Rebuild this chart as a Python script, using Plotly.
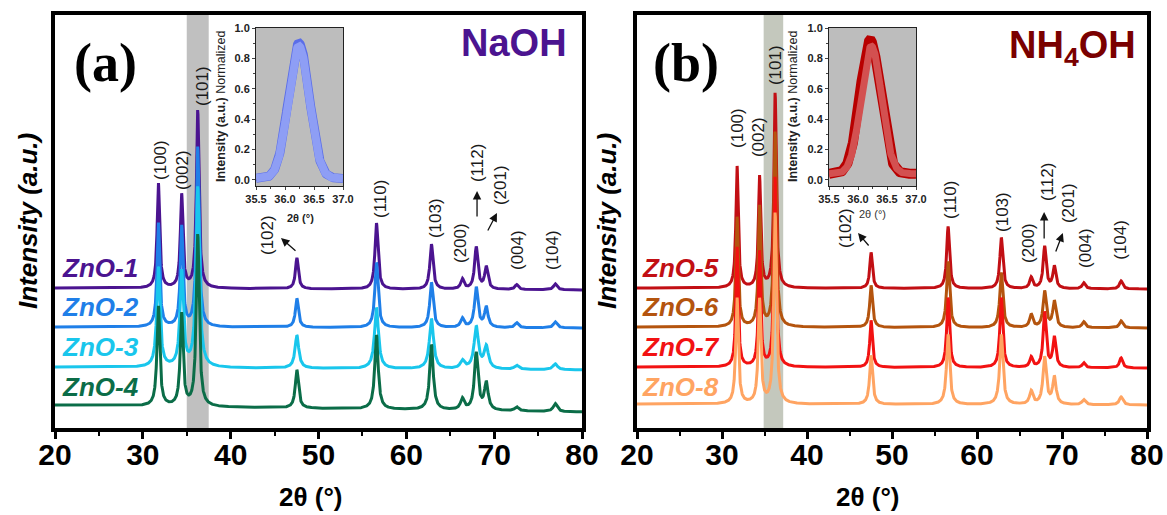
import numpy as np
import plotly.graph_objects as go

W, H = 1167, 515

# ---------------- data ----------------
hkl_labels = ["(100)", "(002)", "(101)", "(102)", "(110)", "(103)",
              "(200)", "(112)", "(201)", "(004)", "(104)"]
peak_positions = [31.77, 34.42, 36.25, 47.54, 56.60, 62.86,
                  66.38, 67.96, 69.10, 72.56, 76.95]

# peak heights above baseline for each sample (same order as hkl_labels)
zno1_heights = [105, 93, 178, 31, 66, 45, 10, 42, 22, 5, 6]
zno2_heights = [104, 100, 180, 29, 65, 45, 9, 40, 20, 5, 6]
zno3_heights = [100, 95, 180, 33, 61, 50, 8, 42, 22, 4, 6]
zno4_heights = [100, 92, 172, 38, 74, 65, 11, 57, 27, 4, 8]
zno5_heights = [122, 111, 195, 36, 62, 51, 11, 42, 22, 6, 8]
zno6_heights = [110, 120, 195, 42, 66, 55, 13, 36, 26, 6, 7]
zno7_heights = [120, 115, 190, 47, 70, 70, 10, 55, 30, 5, 10]
zno8_heights = [106, 104, 191, 49, 70, 70, 13, 47, 27, 5, 8]

# peak widths (FWHM, degrees) per sample
sample_fwhm = {"ZnO-1": 0.34, "ZnO-2": 0.36, "ZnO-3": 0.44, "ZnO-4": 0.38,
               "ZnO-5": 0.32, "ZnO-6": 0.34, "ZnO-7": 0.32, "ZnO-8": 0.36}
# stacked baseline level at 20° and at 80°
baseline_start = {"ZnO-1": 140, "ZnO-2": 101, "ZnO-3": 61, "ZnO-4": 23,
                  "ZnO-5": 140, "ZnO-6": 101, "ZnO-7": 61, "ZnO-8": 24}
baseline_end = {"ZnO-1": 138, "ZnO-2": 100, "ZnO-3": 58, "ZnO-4": 16,
                "ZnO-5": 139, "ZnO-6": 100, "ZnO-7": 60, "ZnO-8": 23}

naoh_samples = ["ZnO-1", "ZnO-2", "ZnO-3", "ZnO-4"]
nh4oh_samples = ["ZnO-5", "ZnO-6", "ZnO-7", "ZnO-8"]
sample_heights = {"ZnO-1": zno1_heights, "ZnO-2": zno2_heights,
                  "ZnO-3": zno3_heights, "ZnO-4": zno4_heights,
                  "ZnO-5": zno5_heights, "ZnO-6": zno6_heights,
                  "ZnO-7": zno7_heights, "ZnO-8": zno8_heights}

# inset: normalised (101) reflection
inset_a_samples = ["ZnO-1", "ZnO-2", "ZnO-3"]
inset_a_center = [36.26, 36.24, 36.24]
inset_a_peak = [0.88, 0.90, 0.88]
inset_a_base = [0.0, 0.01, 0.01]
inset_b_samples = ["ZnO-5", "ZnO-6"]
inset_b_center = [36.21, 36.23]
inset_b_peak = [0.92, 0.88]
inset_b_base = [0.04, 0.04]
inset_sigma = 0.18

band_a = [35.0, 37.5]
band_b = [34.9, 37.2]

x_ticks = [20, 30, 40, 50, 60, 70, 80]

# ---------------- styles ----------------
colors = {"ZnO-1": "#4b1490", "ZnO-2": "#1f7fe8", "ZnO-3": "#19c6ec", "ZnO-4": "#0b6d48",
          "ZnO-5": "#c20f14", "ZnO-6": "#b4540e", "ZnO-7": "#f21212", "ZnO-8": "#ffa462"}
inset_a_colors = ["#4b1490", "#5b6ee8", "#8e9ef5"]
inset_a_widths = [2, 9, 8]
inset_b_colors = ["#b80000", "#d35050"]
inset_b_widths = [10, 7]

two_theta = np.round(np.arange(20.0, 80.0001, 0.02), 2)


def pattern(name):
    b0, b1 = baseline_start[name], baseline_end[name]
    y = b0 + (b1 - b0) * (two_theta - 20.0) / 60.0
    g = sample_fwhm[name] / 2.0
    for p, h in zip(peak_positions, sample_heights[name]):
        gg = g * (1 + (p - 30) / 120.0)
        y = y + h * gg ** 2 / ((two_theta - p) ** 2 + gg ** 2)
    return y


fig = go.Figure()

for names, xa, ya in [(naoh_samples, "x", "y"), (nh4oh_samples, "x2", "y2")]:
    for n in names:
        fig.add_trace(go.Scatter(x=two_theta, y=pattern(n), mode="lines",
                                 line=dict(color=colors[n], width=3),
                                 xaxis=xa, yaxis=ya, showlegend=False, name=n,
                                 hoverinfo="skip"))

inset_x = np.round(np.arange(35.5, 37.0001, 0.005), 3)
for i, n in enumerate(inset_a_samples):
    yy = inset_a_base[i] + (inset_a_peak[i] - inset_a_base[i]) * np.exp(
        -0.5 * ((inset_x - inset_a_center[i]) / inset_sigma) ** 2)
    fig.add_trace(go.Scatter(x=inset_x, y=yy, mode="lines",
                             line=dict(color=inset_a_colors[i], width=inset_a_widths[i]),
                             xaxis="x3", yaxis="y3", showlegend=False, hoverinfo="skip"))
for i, n in enumerate(inset_b_samples):
    yy = inset_b_base[i] + (inset_b_peak[i] - inset_b_base[i]) * np.exp(
        -0.5 * ((inset_x - inset_b_center[i]) / (inset_sigma * 0.97)) ** 2)
    fig.add_trace(go.Scatter(x=inset_x, y=yy, mode="lines",
                             line=dict(color=inset_b_colors[i], width=inset_b_widths[i]),
                             xaxis="x4", yaxis="y4", showlegend=False, hoverinfo="skip"))


def px(x):
    return x / W


def py(y):
    return 1 - y / H


main_y_domain = [py(428), py(15)]
main_x_common = dict(range=[20, 80], tickvals=x_ticks, ticks="outside", ticklen=7,
                     tickwidth=3, tickcolor="black", automargin=False,
                     ticklabelstandoff=-10,
                     minor=dict(ticks="outside", ticklen=4, tickwidth=2,
                                tick0=25, dtick=10, tickcolor="black"),
                     showline=True, linewidth=4, linecolor="black", mirror=True,
                     showgrid=False, zeroline=False,
                     tickfont=dict(family="Liberation Sans, Arial", size=30,
                                   color="black", weight="bold"))
main_y_common = dict(range=[0, 413], domain=main_y_domain, showticklabels=False,
                     ticks="", showline=True, linewidth=4, linecolor="black",
                     mirror=True, showgrid=False, zeroline=False, automargin=False)
inset_x_common = dict(range=[35.5, 37.0], tickvals=[35.5, 36.0, 36.5, 37.0],
                      tickformat=".1f", ticks="outside", ticklen=3, tickwidth=1,
                      minor=dict(ticks="outside", ticklen=2, dtick=0.25, tick0=35.5),
                      showline=True, linewidth=1, linecolor="#222", mirror=True,
                      showgrid=False, zeroline=False, automargin=False,
                      tickfont=dict(family="Liberation Sans, Arial", size=11,
                                    color="#222", weight="bold"))
inset_y_common = dict(range=[-0.04, 1.0], tickvals=[0, 0.2, 0.4, 0.6, 0.8, 1.0],
                      tickformat=".1f", ticks="outside", ticklen=3, tickwidth=1,
                      minor=dict(ticks="outside", ticklen=2, dtick=0.1, tick0=0),
                      showline=True, linewidth=1, linecolor="#222", mirror=True,
                      showgrid=False, zeroline=False, domain=[py(186), py(28)],
                      automargin=False,
                      tickfont=dict(family="Liberation Sans, Arial", size=11,
                                    color="#222", weight="bold"))

fig.update_layout(
    template="none",
    width=W, height=H, margin=dict(l=0, r=0, t=0, b=0, pad=0, autoexpand=False),
    paper_bgcolor="white", plot_bgcolor="rgba(0,0,0,0)",
    xaxis=dict(domain=[px(55), px(582)], anchor="y", **main_x_common),
    yaxis=dict(anchor="x", **main_y_common),
    xaxis2=dict(domain=[px(637), px(1147)], anchor="y2", **main_x_common),
    yaxis2=dict(anchor="x2", **main_y_common),
    xaxis3=dict(domain=[px(256), px(343)], anchor="y3", **inset_x_common),
    yaxis3=dict(anchor="x3", **inset_y_common),
    xaxis4=dict(domain=[px(829), px(916)], anchor="y4", **inset_x_common),
    yaxis4=dict(anchor="x4", **inset_y_common),
)

shapes = [
    dict(type="rect", xref="x", yref="y domain", x0=band_a[0], x1=band_a[1], y0=0, y1=1,
         fillcolor="#c0c0c0", line=dict(width=0), layer="below"),
    dict(type="rect", xref="x2", yref="y2 domain", x0=band_b[0], x1=band_b[1], y0=0, y1=1,
         fillcolor="#c4c8bd", line=dict(width=0), layer="below"),
    dict(type="rect", xref="x3", yref="y3", x0=35.5, x1=37.0, y0=-0.04, y1=1.0,
         fillcolor="#bdbdbd", line=dict(width=0), layer="below"),
    dict(type="rect", xref="x4", yref="y4", x0=35.5, x1=37.0, y0=-0.04, y1=1.0,
         fillcolor="#bdbdbd", line=dict(width=0), layer="below"),
]
fig.update_layout(shapes=shapes)

ann = []
LAB = dict(family="Liberation Sans, Arial", size=17, color="#1a1a1a")

# hkl label positions (data coords) for each panel
hkl_pos_a = [(31.95, 268), (34.46, 258), (36.74, 342), (44.14, 193), (57.0, 229),
             (63.27, 210), (66.11, 185), (68.05, 265), (70.67, 243), (72.6, 178), (76.59, 178)]
hkl_pos_b = [(31.76, 300), (34.24, 291), (36.24, 363), (44.47, 200), (56.82, 228),
             (62.94, 216), (66.0, 185), (68.24, 246), (70.71, 225), (72.7, 180), (76.8, 188)]
for (xr, yr), pos in [(("x", "y"), hkl_pos_a), (("x2", "y2"), hkl_pos_b)]:
    for lab, (xx, yy) in zip(hkl_labels, pos):
        ann.append(dict(x=xx, y=yy, xref=xr, yref=yr, text=lab, textangle=-90,
                        showarrow=False, font=LAB, xanchor="center", yanchor="middle"))

arrows_a = [((45.73, 190), (47.55, 176)), ((68.05, 237), (68.05, 210)), ((70.32, 215), (69.19, 196))]
arrows_b = [((46.0, 195), (47.4, 181)), ((67.9, 216), (67.9, 188)), ((70.1, 195), (69.2, 175))]
for (xr, yr), arr in [(("x", "y"), arrows_a), (("x2", "y2"), arrows_b)]:
    for (hx, hy), (tx, ty) in arr:
        ann.append(dict(x=hx, y=hy, ax=tx, ay=ty, xref=xr, yref=yr, axref=xr, ayref=yr,
                        text="", showarrow=True, arrowhead=2, arrowsize=1.3,
                        arrowwidth=1.3, arrowcolor="#111"))


def paper_text(xp, yp, text, font, angle=0, xanchor="center"):
    ann.append(dict(x=px(xp), y=py(yp), xref="paper", yref="paper", text=text,
                    textangle=angle, showarrow=False, xanchor=xanchor, yanchor="middle",
                    font=font))


# sample labels
label_y = [268, 307, 347, 387]
for names, x0 in [(naoh_samples, 60), (nh4oh_samples, 640)]:
    for n, yy in zip(names, label_y):
        paper_text(x0, yy, "<b><i>%s</i></b>" % n,
                   dict(family="Liberation Sans, Arial", size=26, color=colors[n]),
                   xanchor="left")

# panel letters and titles
serif = dict(family="Liberation Serif, Times New Roman", size=54, color="black")
paper_text(105, 63, "<b>(a)</b>", serif)
paper_text(686, 63, "<b>(b)</b>", serif)
paper_text(569, 43, "<b>NaOH</b>",
           dict(family="Liberation Sans, Arial", size=38, color="#4b1490"), xanchor="right")
paper_text(1138, 48, "<b>NH<sub>4</sub>OH</b>",
           dict(family="Liberation Sans, Arial", size=38, color="#7a0000"), xanchor="right")

# axis titles
for xc in [28, 607]:
    paper_text(xc, 221, "<b><i>Intensity (a.u.)</i></b>",
               dict(family="Liberation Sans, Arial", size=26, color="black"), angle=-90)
for xc in [310, 868]:
    paper_text(xc, 497, "<b>2θ (°)</b>",
               dict(family="Liberation Sans, Arial", size=26, color="black"))
# inset titles
paper_text(300, 218, "<b>2θ (°)</b>", dict(family="Liberation Sans, Arial", size=11, color="#222"))
paper_text(872, 214, "2θ (°)", dict(family="Liberation Sans, Arial", size=11, color="#333"))
for xc in [221, 793]:
    paper_text(xc, 107, "<b>Intensity (a.u.)</b> Normalized",
               dict(family="Liberation Sans, Arial", size=12.5, color="#222"), angle=-90)

fig.update_layout(annotations=ann)
fig.write_html("out.html")
